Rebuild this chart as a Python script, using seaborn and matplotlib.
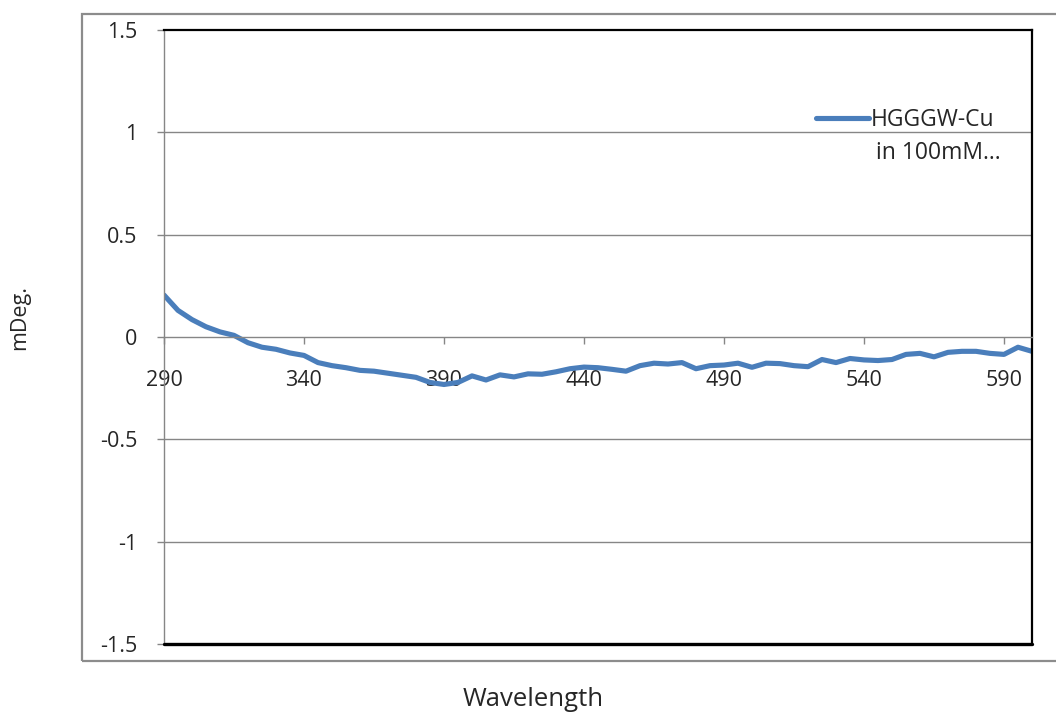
import matplotlib
matplotlib.use("Agg")
import matplotlib.pyplot as plt
import seaborn as sns
import pandas as pd
from matplotlib.patches import Rectangle

wavelength = list(range(290, 601, 5))
mdeg = [0.205, 0.13, 0.085, 0.05, 0.025, 0.008, -0.028, -0.05, -0.06, -0.078,
        -0.09, -0.125, -0.14, -0.15, -0.163, -0.167, -0.177, -0.187, -0.197, -0.222,
        -0.232, -0.222, -0.19, -0.21, -0.185, -0.195, -0.18, -0.182, -0.17, -0.155,
        -0.147, -0.15, -0.158, -0.167, -0.14, -0.128, -0.132, -0.125, -0.155, -0.14,
        -0.137, -0.128, -0.148, -0.128, -0.13, -0.14, -0.145, -0.11, -0.125, -0.105,
        -0.112, -0.115, -0.11, -0.085, -0.08, -0.097, -0.075, -0.07, -0.07, -0.08,
        -0.085, -0.05, -0.07]
series_name = "HGGGW-Cu"
series_name2 = "in 100mM…"
x_ticks = [290, 340, 390, 440, 490, 540, 590]
y_ticks = [-1.5, -1, -0.5, 0, 0.5, 1, 1.5]
y_tick_labels = ["-1.5", "-1", "-0.5", "0", "0.5", "1", "1.5"]

sns.set_style("white")
plt.rcParams['font.family'] = ['Open Sans', 'DejaVu Sans']

df = pd.DataFrame({"Wavelength": wavelength, "mDeg": mdeg})

fig = plt.figure(figsize=(10.56, 7.15), dpi=100)
ax = fig.add_axes([164/1056, 1-644/715, (1032-164)/1056, (644-30)/715])

sns.lineplot(data=df, x="Wavelength", y="mDeg", ax=ax, color="#4A7EBB",
             linewidth=3.7, label=series_name, solid_joinstyle='round',
             solid_capstyle='round')

ax.set_xlim(290, 600)
ax.set_ylim(-1.5, 1.5)
ax.set_yticks(y_ticks)
ax.set_yticklabels(y_tick_labels)
ax.set_xticks(x_ticks)
ax.set_xticklabels([str(t) for t in x_ticks])

grid_c = "#868686"
for v in [-1, -0.5, 0.5, 1]:
    ax.axhline(v, color=grid_c, linewidth=1.0, zorder=0)

ax.spines['bottom'].set_position(('data', 0))
ax.spines['bottom'].set_color(grid_c)
ax.spines['bottom'].set_linewidth(1.0)
ax.spines['left'].set_color(grid_c)
ax.spines['left'].set_linewidth(1.0)
for s in ['top', 'right']:
    ax.spines[s].set_color("black")
    ax.spines[s].set_linewidth(1.6)
ax.axhline(-1.5, color="black", linewidth=2.4, clip_on=False, zorder=3)

ax.tick_params(axis='x', direction='out', length=5, width=1, color=grid_c,
               pad=19, labelsize=15.5, bottom=True)
ax.tick_params(axis='y', direction='out', length=5, width=1, color=grid_c,
               pad=14, labelsize=15.5, left=True)

ax.set_xlabel("")
ax.set_ylabel("")
fig.text(533/1056, 1-700/715, "Wavelength", ha='center', va='center', fontsize=18.5)
fig.text(20/1056, 1-318/715, "mDeg.", ha='center', va='center', rotation=90, fontsize=15.5)

leg = ax.legend(loc='upper left', bbox_to_anchor=((816-164)/868, 1-(108-30)/614),
                frameon=False, fontsize=16.5, handlelength=2.3, handletextpad=0.1,
                borderpad=0, borderaxespad=0)
ax.text((876-164)/868, 1-(153-30)/614, series_name2, transform=ax.transAxes,
        ha='left', va='center', fontsize=16.5)

fig.patches.append(Rectangle((82/1056, 1-661/715), (1056-82)/1056 + 0.01, (661-14)/715,
                             transform=fig.transFigure, fill=False,
                             edgecolor="#8C8C8C", linewidth=1.6, clip_on=False))

fig.savefig("out.png", dpi=100)
